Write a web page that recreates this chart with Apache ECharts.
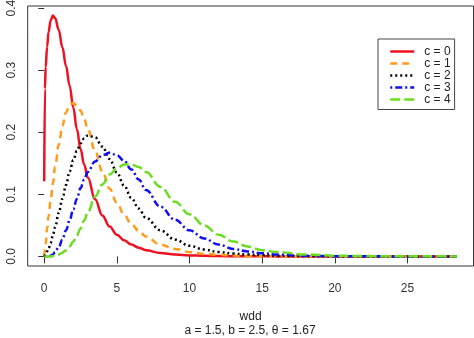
<!DOCTYPE html>
<html>
<head>
<meta charset="utf-8">
<script src="https://cdn.jsdelivr.net/npm/echarts@6/dist/echarts.min.js"></script>
<style>
  html, body { margin: 0; padding: 0; background: #ffffff; }
  #chart { width: 474px; height: 338px; }
</style>
</head>
<body>
<div id="chart"></div>
<script>
// Density curves of wdd for c = 0..4 (a = 1.5, b = 2.5, θ = 1.67)
const xs = [0, 0.05, 0.1, 0.2, 0.3, 0.45, 0.6, 0.75, 1, 1.25, 1.5, 1.75, 2, 2.25, 2.5, 2.75, 3, 3.5, 4, 4.5,
            5, 5.5, 6, 6.5, 7, 8, 9, 10, 11, 12, 13, 14, 15, 16, 18, 20, 22, 24, 26, 28.4];

const c0 = [0.121, 0.27, 0.305, 0.338, 0.362, 0.381, 0.388, 0.384, 0.365, 0.337, 0.307, 0.275, 0.24, 0.205, 0.173, 0.148, 0.127, 0.092, 0.066, 0.048,
            0.035, 0.026, 0.019, 0.014, 0.010, 0.0055, 0.003, 0.0016, 0.0009, 0.0005, 0.0003, 0.0002, 0.0001, 0, 0, 0, 0, 0, 0, 0];
const c1 = [0, 0.01, 0.02, 0.045, 0.065, 0.092, 0.118, 0.145, 0.18, 0.21, 0.232, 0.244, 0.247, 0.243, 0.235, 0.221, 0.205, 0.17, 0.137, 0.109,
            0.086, 0.067, 0.052, 0.041, 0.032, 0.019, 0.012, 0.007, 0.004, 0.0025, 0.0015, 0.0008, 0.0005, 0.0003, 0.0001, 0, 0, 0, 0, 0];
const c2 = [0, 0.001, 0.003, 0.008, 0.013, 0.022, 0.034, 0.047, 0.07, 0.093, 0.115, 0.137, 0.155, 0.17, 0.182, 0.19, 0.195, 0.192, 0.177, 0.157,
            0.135, 0.114, 0.094, 0.077, 0.062, 0.042, 0.027, 0.017, 0.011, 0.007, 0.0045, 0.003, 0.002, 0.001, 0.0004, 0.0001, 0, 0, 0, 0];
const c3 = [0, 0, 0, 0.0002, 0.0005, 0.001, 0.003, 0.007, 0.015, 0.027, 0.042, 0.058, 0.076, 0.093, 0.11, 0.124, 0.136, 0.153, 0.163, 0.167,
            0.163, 0.154, 0.14, 0.124, 0.107, 0.08, 0.059, 0.042, 0.029, 0.019, 0.012, 0.008, 0.005, 0.003, 0.001, 0.0003, 0.0001, 0, 0, 0];
const c4 = [0, 0, 0, 0, 0, 0, 0.0005, 0.001, 0.003, 0.006, 0.01, 0.016, 0.024, 0.034, 0.045, 0.058, 0.071, 0.096, 0.116, 0.132,
            0.142, 0.148, 0.148, 0.144, 0.136, 0.112, 0.088, 0.068, 0.05, 0.035, 0.024, 0.016, 0.01, 0.007, 0.003, 0.0012, 0.0005, 0.0002, 0.0001, 0];

const seriesNames = ['c = 0', 'c = 1', 'c = 2', 'c = 3', 'c = 4'];
const xTicks = [0, 5, 10, 15, 20, 25];
const yTicks = [0, 0.1, 0.2, 0.3, 0.4];

const colors = ['#ee1122', '#ff9a1a', '#000000', '#1010ee', '#6bdc22'];
const dashes = ['solid', [7, 5], [2, 3], [2, 3, 7, 3], [10, 4]];
const FONT = 'Liberation Sans, Arial, sans-serif';

const values = [c0, c1, c2, c3, c4];
const series = values.map((ys, i) => ({
  name: seriesNames[i],
  type: 'line',
  data: xs.map((x, k) => [x, ys[k]]),
  symbol: 'none',
  smooth: 0.4,
  smoothMonotone: 'x',
  lineStyle: { color: colors[i], width: 2.5, type: dashes[i] },
  itemStyle: { color: colors[i] },
  silent: true
}));

const chart = echarts.init(document.getElementById('chart'), null, { renderer: 'canvas' });
chart.setOption({
  animation: false,
  backgroundColor: '#ffffff',
  textStyle: { fontFamily: FONT },
  grid: {
    left: 27.7, top: 6, right: 0.5, bottom: 72,
    show: true, borderColor: '#333', borderWidth: 1,
    outerBoundsMode: 'none'
  },
  xAxis: {
    type: 'value',
    min: -1.136, max: 29.54,
    name: 'wdd',
    nameLocation: 'middle',
    nameGap: 45,
    nameTextStyle: { fontFamily: FONT, fontSize: 12, color: '#222' },
    axisLine: { show: false },
    splitLine: { show: false },
    axisTick: { show: true, length: 7, lineStyle: { color: '#333' }, customValues: xTicks },
    axisLabel: { fontFamily: FONT, fontSize: 12, color: '#333', margin: 17, customValues: xTicks }
  },
  yAxis: {
    type: 'value',
    min: -0.0155, max: 0.4035,
    axisLine: { show: false },
    splitLine: { show: false },
    axisTick: { show: true, length: 6, lineStyle: { color: '#333' }, customValues: yTicks },
    axisLabel: {
      fontFamily: FONT, fontSize: 12, color: '#333', margin: 10, rotate: 90,
      customValues: yTicks,
      formatter: v => v.toFixed(1)
    }
  },
  legend: {
    orient: 'vertical',
    left: 378, top: 39,
    data: seriesNames,
    itemWidth: 24, itemHeight: 11.7, itemGap: 0,
    padding: [6.5, 4, 4, 11],
    borderColor: '#444', borderWidth: 1,
    backgroundColor: '#ffffff',
    itemStyle: { opacity: 0, borderWidth: 0 },
    lineStyle: { width: 2.5 },
    textStyle: { fontFamily: FONT, fontSize: 12, color: '#222', padding: [0, 0, 0, 5] },
    selectedMode: false
  },
  graphic: [{
    type: 'text',
    x: 250, y: 331,
    style: {
      text: 'a = 1.5, b = 2.5, θ = 1.67',
      fontFamily: FONT, fontSize: 12, fill: '#222',
      textAlign: 'center', textVerticalAlign: 'middle'
    }
  }],
  series: series
});
</script>
</body>
</html>
